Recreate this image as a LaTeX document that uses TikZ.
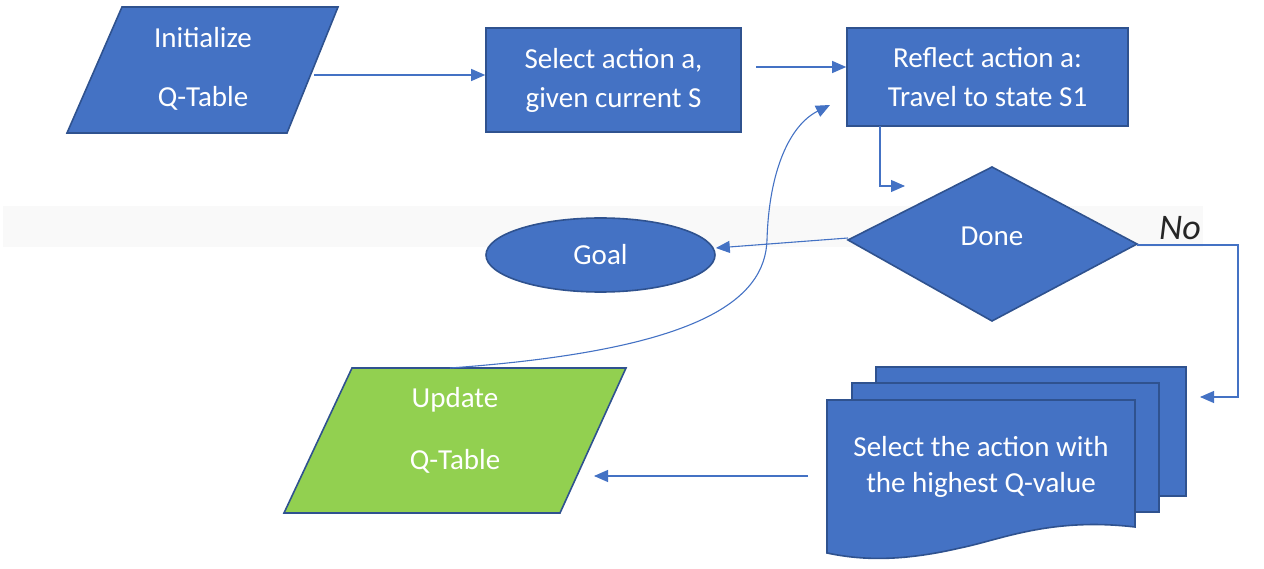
\documentclass[tikz,border=0pt]{standalone}
\usepackage{fontspec}
\setmainfont{Carlito}
\usetikzlibrary{arrows.meta,shapes.geometric}
\definecolor{boxblue}{HTML}{4472C4}
\definecolor{edgeblue}{HTML}{2F528F}
\definecolor{updgreen}{HTML}{92D050}
\definecolor{bandgray}{HTML}{F9F9F9}
\definecolor{notext}{HTML}{262626}
\tikzset{
  shapebox/.style={fill=boxblue,draw=edgeblue,line width=1.6pt,line join=miter},
  rectbox/.style={shapebox,rectangle,text=white,align=center,inner sep=0pt,
     font=\fontsize{29}{39}\selectfont},
  label txt/.style={text=white,inner sep=0pt,font=\fontsize{29}{39}\selectfont,align=center},
  conn/.style={draw=boxblue,line width=1.1pt,-{Triangle[length=14pt,width=12pt]}},
}
\begin{document}
\begin{tikzpicture}[x=1pt,y=-1pt]
\useasboundingbox (0,0) rectangle (1264,569);
% faint band
\fill[bandgray] (3,206) rectangle (1203,247);

% Initialize parallelogram
\path[shapebox] (122,7) -- (338,7) -- (287,133) -- (67,133) -- cycle;
\node[label txt] (initA) at (203,38) {Initialize};
\node[label txt] (initB) at (203,98) {Q-Table};
\coordinate (initR) at (314,75);

% Select action
\node[rectbox,minimum width=255pt,minimum height=104pt] (sel) at (613.5,80)
  {Select action a,\\given current S};

% Reflect
\node[rectbox,minimum width=281pt,minimum height=98pt] (refl) at (987.5,77)
  {Reflect action a:\\Travel to state S1};

% Done diamond
\path[shapebox] (992,167) -- (1137,244) -- (992,321) -- (848,240) -- cycle;
\node[label txt] (done) at (992,236) {Done};
\coordinate (doneL) at (848,238);
\coordinate (doneR) at (1137,245);
\coordinate (doneT) at (905,186);

% No label
\node[inner sep=0pt,text=notext,font=\fontsize{36}{40}\selectfont\itshape] (no) at (1180,228) {No};

% Goal ellipse
\node[shapebox,ellipse,minimum width=229pt,minimum height=74pt,inner sep=0pt,
  text=white,font=\fontsize{29}{39}\selectfont] (goal) at (600.5,255) {Goal};

% Multidocument
\path[shapebox] (876,367) rectangle (1186,496);
\path[shapebox] (852,383) rectangle (1159,512);
\path[shapebox] (827,400) -- (1135,400) -- (1135,527)
   .. controls (1050,517) and (1000,540) .. (960,548)
   .. controls (900,562) and (860,560) .. (827,553) -- cycle;
\node[label txt] (multiA) at (981,447) {Select the action with};
\node[label txt] (multiB) at (981,485) {the highest Q-value};
\coordinate (multiL) at (808,476);
\coordinate (multiR) at (1200,397);

% Update parallelogram
\path[shapebox,fill=updgreen] (352,368) -- (626,368) -- (560,513) -- (284,513) -- cycle;
\node[label txt] (updA) at (455,400) {Update};
\node[label txt] (updB) at (455,461) {Q-Table};
\coordinate (updT) at (450,368);
\coordinate (updR) at (594,476);

% connectors
\draw[conn] (initR) -- (sel.west |- initR);
\draw[conn] (756,67) -- (refl.west |- 0,67);
\coordinate (reflB) at (880,126);
\draw[conn] (reflB) |- (doneT);
\draw[conn] (doneL) -- (goal.east |- 0,248);
\coordinate (noCorner) at (1238,245);
\draw[conn] (doneR) -- (noCorner) |- (multiR);
\draw[conn] (multiL) -- (updR);
\coordinate (reflIn) at (830,105);
\draw[conn] (updT) .. controls (700,350) and (765,300) .. (767,240)
   .. controls (769,170) and (790,125) .. (reflIn);
\end{tikzpicture}
\end{document}
